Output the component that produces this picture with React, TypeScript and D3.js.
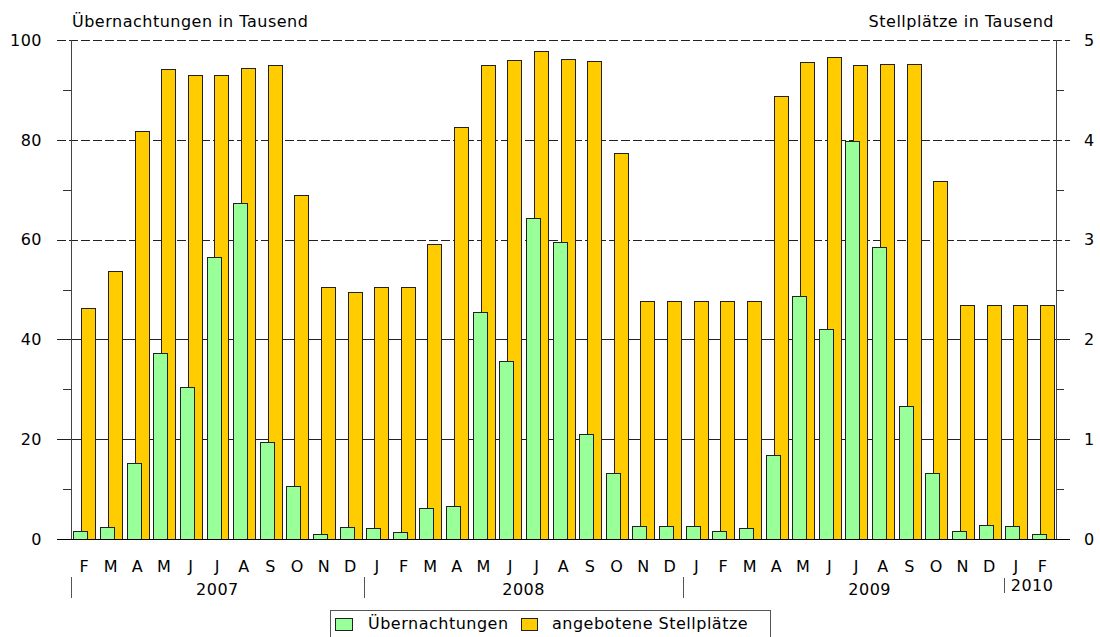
import React from 'react';
import * as d3 from 'd3';

// Monate Feb 2007 bis Feb 2010
const months = ['F', 'M', 'A', 'M', 'J', 'J', 'A', 'S', 'O', 'N', 'D',
  'J', 'F', 'M', 'A', 'M', 'J', 'J', 'A', 'S', 'O', 'N', 'D',
  'J', 'F', 'M', 'A', 'M', 'J', 'J', 'A', 'S', 'O', 'N', 'D',
  'J', 'F'];

// Übernachtungen in Tausend (linke Achse)
const uebernachtungen = [1.7, 2.5, 15.3, 37.2, 30.5, 56.6, 67.3, 19.5, 10.7, 1.1, 2.4,
  2.2, 1.5, 6.2, 6.6, 45.4, 35.6, 64.4, 59.5, 21.1, 13.3, 2.6, 2.7,
  2.7, 1.7, 2.2, 16.8, 48.6, 42.0, 79.8, 58.6, 26.6, 13.2, 1.7, 2.8,
  2.7, 1.1];

// angebotene Stellplätze in Tausend (rechte Achse)
const stellplaetze = [2.31, 2.69, 4.09, 4.71, 4.65, 4.65, 4.72, 4.75, 3.45, 2.53, 2.47,
  2.53, 2.53, 2.96, 4.13, 4.75, 4.80, 4.89, 4.81, 4.79, 3.87, 2.38, 2.38,
  2.38, 2.38, 2.38, 4.44, 4.78, 4.83, 4.75, 4.76, 4.76, 3.59, 2.34, 2.34,
  2.34, 2.34];

const leftTicks = [0, 20, 40, 60, 80, 100];
const rightTicks = [0, 1, 2, 3, 4, 5];
const minorTicks = [10, 30, 50, 70, 90];

// Jahresbeschriftung: Spanne in Monatsindizes
const years = [
  { label: '2007', from: 0, to: 11 },
  { label: '2008', from: 11, to: 23 },
  { label: '2009', from: 23, to: 37 },
];
const yearSeparators = [0, 11, 23];

const W = 1100;
const H = 637;
const left = 71;
const right = 1056;
const top = 40;
const bottom = 539;
const font = 'DejaVu Sans, sans-serif';
const fs = 16;
const ls = 0.5;

const App: React.FC = () => {
  const x = d3.scaleBand<number>()
    .domain(d3.range(months.length))
    .range([left, right]);
  const bw = x.bandwidth();
  const yL = d3.scaleLinear().domain([0, 100]).range([bottom, top]);
  const yR = d3.scaleLinear().domain([0, 5]).range([bottom, top]);
  const barW = bw * 0.53;

  const bx = (i: number) => x(i) ?? 0;

  return (
    <svg width={W} height={H} style={{ position: 'absolute', left: 0, top: 0 }}
      fontFamily={font} fontSize={fs} letterSpacing={ls}>
      <rect width={W} height={H} fill="#fff" />

      {/* Achsentitel */}
      <text x={72} y={27}>Übernachtungen in Tausend</text>
      <text x={1054} y={27} textAnchor="end">Stellplätze in Tausend</text>

      {/* Gitterlinien */}
      {leftTicks.filter(t => t > 0).map(t => (
        <line key={t} x1={57} x2={1070} y1={Math.round(yL(t)) + 0.5} y2={Math.round(yL(t)) + 0.5}
          stroke="#222" strokeWidth={1} strokeDasharray={t >= 60 ? '9,3' : undefined} />
      ))}

      {/* Stellplätze (hinten) */}
      {stellplaetze.map((v, i) => (
        <rect key={'s' + i} x={Math.round(bx(i) + bw * 0.39) + 0.5} y={Math.round(yR(v)) + 0.5}
          width={Math.round(barW)} height={Math.round(bottom - yR(v))}
          fill="#FFCC00" stroke="#222" strokeWidth={1} />
      ))}

      {/* Übernachtungen (vorne) */}
      {uebernachtungen.map((v, i) => (
        <rect key={'u' + i} x={Math.round(bx(i) + bw * 0.09) + 0.5} y={Math.round(yL(v)) + 0.5}
          width={Math.round(barW)} height={Math.round(bottom - yL(v))}
          fill="#99FF99" stroke="#222" strokeWidth={1} />
      ))}

      {/* Nulllinie und Achsen */}
      <line x1={57} x2={1070} y1={bottom + 0.5} y2={bottom + 0.5} stroke="#000" />
      <line x1={left + 0.5} x2={left + 0.5} y1={top} y2={bottom} stroke="#444" />
      <line x1={right + 0.5} x2={right + 0.5} y1={top} y2={bottom} stroke="#444" />
      {minorTicks.map(t => (
        <g key={'m' + t}>
          <line x1={63} x2={left} y1={Math.round(yL(t)) + 0.5} y2={Math.round(yL(t)) + 0.5} stroke="#333" />
          <line x1={right} x2={1064} y1={Math.round(yL(t)) + 0.5} y2={Math.round(yL(t)) + 0.5} stroke="#333" />
        </g>
      ))}

      {/* Skalenbeschriftung */}
      {leftTicks.map(t => (
        <text key={'l' + t} x={42} y={yL(t)} dy="0.36em" textAnchor="end">{t}</text>
      ))}
      {rightTicks.map(t => (
        <text key={'r' + t} x={1084} y={yR(t)} dy="0.36em">{t}</text>
      ))}

      {/* Monate */}
      {months.map((m, i) => (
        <text key={'mo' + i} x={bx(i) + bw / 2} y={572} textAnchor="middle">{m}</text>
      ))}

      {/* Jahre */}
      {yearSeparators.map(i => (
        <line key={'ys' + i} x1={Math.round(bx(i)) + 0.5} x2={Math.round(bx(i)) + 0.5} y1={577} y2={598}
          stroke="#555" />
      ))}
      {years.map(yr => {
        const x0 = bx(yr.from);
        const x1 = yr.to >= months.length ? right : bx(yr.to);
        return (
          <text key={yr.label} x={(x0 + x1) / 2} y={595} textAnchor="middle">{yr.label}</text>
        );
      })}
      <line x1={Math.round(bx(35)) + 1.5} x2={Math.round(bx(35)) + 1.5} y1={578} y2={593} stroke="#555" />
      <text x={bx(35) + 8} y={591}>2010</text>

      {/* Legende */}
      <rect x={330.5} y={610.5} width={440} height={40} fill="#fff" stroke="#555" />
      <rect x={335.5} y={618.5} width={17} height={12} fill="#99FF99" stroke="#222" />
      <text x={368} y={629}>Übernachtungen</text>
      <rect x={521.5} y={618.5} width={16} height={12} fill="#FFCC00" stroke="#222" />
      <text x={552} y={629}>angebotene Stellplätze</text>
    </svg>
  );
};

export default App;
